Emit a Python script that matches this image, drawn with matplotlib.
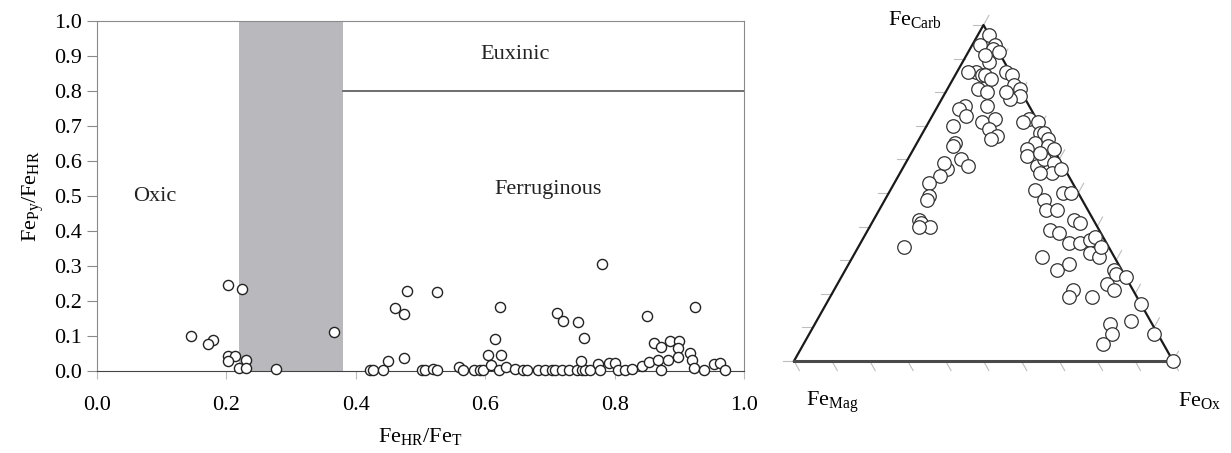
import matplotlib
matplotlib.use('agg')
import matplotlib.pyplot as plt
import numpy as np

plt.rcParams['font.family'] = ['Liberation Serif', 'DejaVu Serif']
plt.rcParams['mathtext.fontset'] = 'custom'
plt.rcParams['mathtext.rm'] = 'Liberation Serif'
plt.rcParams['mathtext.it'] = 'Liberation Serif:italic'
plt.rcParams['font.size'] = 16

# --- left panel: FeHR/FeT vs FePy/FeHR ---
fehr_fet = [0.145, 0.202, 0.224, 0.179, 0.172, 0.202, 0.214, 0.203, 0.231, 0.220,
            0.231, 0.277, 0.367, 0.422, 0.426, 0.442, 0.450, 0.460, 0.475, 0.479,
            0.475, 0.502, 0.507, 0.519, 0.525, 0.526, 0.559, 0.566, 0.583, 0.592,
            0.597, 0.604, 0.609, 0.615, 0.623, 0.624, 0.621, 0.632, 0.646, 0.659,
            0.664, 0.682, 0.693, 0.703, 0.708, 0.719, 0.711, 0.720, 0.729, 0.742,
            0.749, 0.755, 0.762, 0.743, 0.748, 0.753, 0.780, 0.775, 0.778, 0.791,
            0.801, 0.805, 0.816, 0.827, 0.842, 0.850, 0.853, 0.861, 0.872, 0.867,
            0.872, 0.885, 0.899, 0.883, 0.898, 0.898, 0.917, 0.925, 0.920, 0.922,
            0.938, 0.953, 0.963, 0.971]
fepy_fehr = [0.100, 0.246, 0.234, 0.089, 0.077, 0.044, 0.044, 0.029, 0.031, 0.010,
             0.010, 0.005, 0.113, 0.002, 0.002, 0.002, 0.029, 0.180, 0.162, 0.230,
             0.036, 0.004, 0.004, 0.006, 0.004, 0.226, 0.012, 0.002, 0.002, 0.002,
             0.002, 0.046, 0.017, 0.092, 0.182, 0.046, 0.002, 0.012, 0.005, 0.002,
             0.002, 0.002, 0.002, 0.002, 0.002, 0.002, 0.165, 0.144, 0.002, 0.002,
             0.002, 0.002, 0.002, 0.139, 0.029, 0.095, 0.306, 0.020, 0.002, 0.024,
             0.024, 0.002, 0.002, 0.007, 0.013, 0.158, 0.027, 0.081, 0.068, 0.031,
             0.002, 0.086, 0.086, 0.031, 0.065, 0.040, 0.052, 0.183, 0.031, 0.008,
             0.002, 0.020, 0.023, 0.002]

# --- right panel: ternary (Fe_Carb, Fe_Ox fractions; Fe_Mag = remainder) ---
fe_carb = [0.97, 0.94, 0.94, 0.93, 0.89, 0.91, 0.86, 0.86, 0.85, 0.85,
           0.84, 0.86, 0.85, 0.82, 0.81, 0.79, 0.78, 0.80, 0.81, 0.80,
           0.76, 0.76, 0.75, 0.73, 0.70, 0.71, 0.72, 0.69, 0.67, 0.66,
           0.72, 0.71, 0.71, 0.68, 0.68, 0.66, 0.65, 0.63, 0.64, 0.63,
           0.61, 0.58, 0.60, 0.59, 0.56, 0.57, 0.65, 0.64, 0.60, 0.58,
           0.57, 0.59, 0.55, 0.53, 0.49, 0.48, 0.42, 0.41, 0.40, 0.40,
           0.34, 0.51, 0.48, 0.50, 0.50, 0.45, 0.45, 0.42, 0.41, 0.39,
           0.38, 0.35, 0.35, 0.36, 0.37, 0.32, 0.31, 0.34, 0.31, 0.27,
           0.29, 0.27, 0.26, 0.25, 0.23, 0.21, 0.21, 0.19, 0.19, 0.17,
           0.12, 0.11, 0.08, 0.05, 0.08, 0.00, 0.92, 0.62, 0.56]
fe_ox = [0.03, 0.06, 0.02, 0.06, 0.07, 0.05, 0.05, 0.03, 0.07, 0.08,
         0.10, 0.13, 0.15, 0.17, 0.19, 0.20, 0.18, 0.16, 0.08, 0.11,
         0.13, 0.07, 0.06, 0.09, 0.07, 0.14, 0.17, 0.17, 0.20, 0.19,
         0.26, 0.25, 0.29, 0.31, 0.32, 0.34, 0.31, 0.30, 0.35, 0.37,
         0.31, 0.35, 0.36, 0.39, 0.40, 0.42, 0.10, 0.10, 0.14, 0.17,
         0.12, 0.10, 0.11, 0.09, 0.11, 0.11, 0.12, 0.13, 0.16, 0.13,
         0.12, 0.38, 0.42, 0.46, 0.48, 0.44, 0.47, 0.53, 0.55, 0.48,
         0.51, 0.55, 0.58, 0.60, 0.61, 0.62, 0.65, 0.64, 0.50, 0.56,
         0.58, 0.71, 0.72, 0.75, 0.71, 0.74, 0.63, 0.63, 0.69, 0.83,
         0.83, 0.78, 0.80, 0.79, 0.91, 1.00, 0.08, 0.34, 0.37]

fig = plt.figure(figsize=(12.31, 4.53), dpi=100)

ax = fig.add_axes([97 / 1231, 1 - 371 / 453, 647 / 1231, 349.5 / 453])
ax.axvspan(0.22, 0.38, color='#b9b8bd', lw=0, zorder=0)
ax.plot([0.38, 1.0], [0.8, 0.8], color='#555555', lw=1.2, zorder=1)
ax.plot(fehr_fet, fepy_fehr, 'o', ms=7.3, mfc='white', mec='#222222', mew=1.0,
        clip_on=False, zorder=3)
ax.set_xlim(0, 1)
ax.set_ylim(0, 1)
ax.set_xticks(np.arange(0, 1.01, 0.2))
ax.set_yticks(np.arange(0, 1.01, 0.1))
ax.xaxis.set_major_formatter(matplotlib.ticker.FormatStrFormatter('%.1f'))
ax.yaxis.set_major_formatter(matplotlib.ticker.FormatStrFormatter('%.1f'))
for s in ['left', 'top', 'right']:
    ax.spines[s].set_color('#8a8a8a')
ax.spines['bottom'].set_color('#444444')
ax.tick_params(axis='y', direction='out', length=7, color='#8a8a8a', pad=4, labelsize=16)
ax.tick_params(axis='x', direction='out', length=6, color='#bbbbbb', pad=12, labelsize=16)
ax.set_xlabel(r'Fe$_{\mathrm{HR}}$/Fe$_{\mathrm{T}}$', fontsize=16, labelpad=8)
ax.set_ylabel(r'Fe$_{\mathrm{Py}}$/Fe$_{\mathrm{HR}}$', fontsize=16, labelpad=6)
ax.text(0.09, 0.50, 'Oxic', ha='center', va='center', fontsize=16, color='#222222')
ax.text(0.646, 0.905, 'Euxinic', ha='center', va='center', fontsize=16, color='#222222')
ax.text(0.697, 0.52, 'Ferruginous', ha='center', va='center', fontsize=16, color='#222222')

# ternary
h = 336 / 379
tax = fig.add_axes([794 / 1231, 1 - 361 / 453, 379 / 1231, 336 / 453])
tax.set_xlim(0, 1)
tax.set_ylim(0, h)
tax.axis('off')

carb = np.array(fe_carb)
ox = np.array(fe_ox)
tx = ox + carb * 0.5
ty = carb * h

tick_len = 11 / 379
r_dir = np.array([0.5, -h]) / np.hypot(0.5, h)
l_dir = np.array([0.5, h]) / np.hypot(0.5, h)
for f in np.linspace(0, 1, 11):
    # base ticks (parallel to right edge)
    p = np.array([f, 0])
    q = p + tick_len * r_dir
    tax.plot([p[0], q[0]], [p[1], q[1]], color='#bdbdbd', lw=0.8, clip_on=False)
    # left edge ticks (horizontal)
    p = np.array([0.5 * f, h * f])
    tax.plot([p[0], p[0] - tick_len], [p[1], p[1]], color='#bdbdbd', lw=0.8, clip_on=False)
    # right edge ticks (parallel to left edge)
    p = np.array([1 - 0.5 * f, h * f])
    q = p + tick_len * l_dir
    tax.plot([p[0], q[0]], [p[1], q[1]], color='#bdbdbd', lw=0.8, clip_on=False)

tax.plot([0, 0.5, 1], [0, h, 0], color='#1a1a1a', lw=1.6, clip_on=False)
tax.plot([0, 1], [0, 0], color='#4a4a4a', lw=2.2, clip_on=False)
tax.scatter(tx, ty, s=95, facecolor='white', edgecolor='#333333', linewidth=0.9,
            clip_on=False, zorder=3)

tax.text(0.319, 0.90, r'Fe$_{\mathrm{Carb}}$', ha='center', va='center', fontsize=16)
tax.text(0.10, -0.108, r'Fe$_{\mathrm{Mag}}$', ha='center', va='center', fontsize=16)
tax.text(1.071, -0.103, r'Fe$_{\mathrm{Ox}}$', ha='center', va='center', fontsize=16)

fig.savefig('out.png', dpi=100)
